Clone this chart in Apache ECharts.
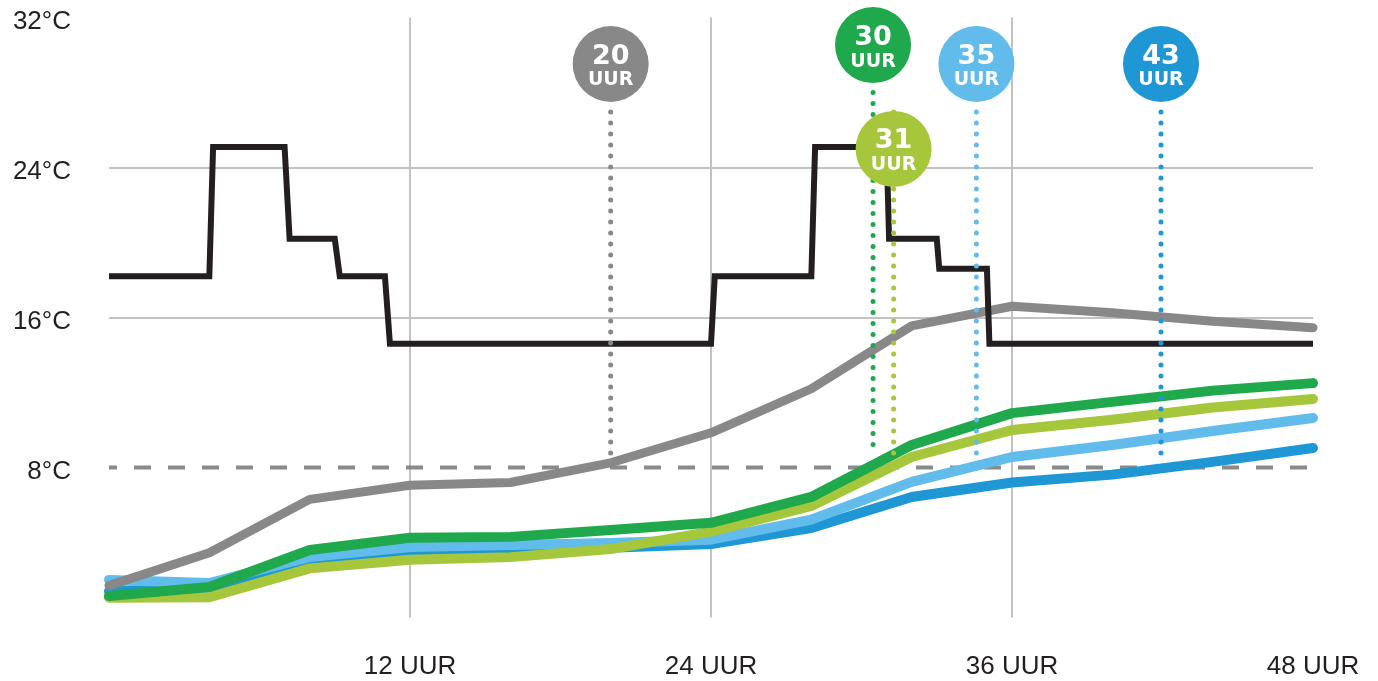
<!DOCTYPE html>
<html>
<head>
<meta charset="utf-8">
<script src="https://cdn.jsdelivr.net/npm/echarts@6/dist/echarts.min.js"></script>
<style>
  html, body { margin: 0; padding: 0; background: #fff; }
  #chart { width: 1378px; height: 681px; }
</style>
</head>
<body>
<div id="chart"></div>
<script>
// hours on the x axis where the measured curves have their points
const hours = [0, 4, 8, 12, 16, 20, 24, 28, 32, 36, 40, 44, 48];

// measured temperatures (°C)
const grayTemps      = [1.7, 3.45, 6.3, 7.05, 7.2, 8.25, 9.85, 12.2, 15.55, 16.6, 16.25, 15.8, 15.45];
const greenTemps     = [1.15, 1.63, 3.6, 4.25, 4.3, 4.67, 5.05, 6.43, 9.2, 10.9, 11.5, 12.1, 12.5];
const limeTemps      = [1.05, 1.08, 2.62, 3.08, 3.22, 3.65, 4.58, 5.95, 8.56, 10.0, 10.55, 11.2, 11.65];
const lightBlueTemps = [2.0, 1.84, 3.23, 3.76, 3.87, 3.97, 4.15, 5.22, 7.23, 8.56, 9.2, 9.95, 10.64];
const darkBlueTemps  = [1.4, 1.6, 2.96, 3.44, 3.6, 3.72, 3.92, 4.77, 6.43, 7.2, 7.62, 8.3, 9.04];

// thermostat setpoint (step line)
const setpointHours = [0, 4, 4.15, 7, 7.2, 9, 9.2, 11, 11.2, 24, 24.15, 28, 28.15, 31, 31.1, 33, 33.1, 35, 35.1, 48];
const setpointTemps = [18.2, 18.2, 25.1, 25.1, 20.2, 20.2, 18.2, 18.2, 14.6, 14.6, 18.2, 18.2, 25.1, 25.1, 20.2, 20.2, 18.6, 18.6, 14.6, 14.6];

// threshold line
const thresholdTemp = 8;

// markers: label, hour, colour
const markerLabels = ['20', '30', '31', '35', '43'];
const markerHours  = [20, 30.46, 31.28, 34.58, 41.94];
const markerTops   = [29.52, 30.53, 24.99, 29.52, 29.52];   // circle centre (°C scale)
const dotTop       = [26.96, 28.0, 26.96, 26.96, 26.96];
const dotBottom    = 8.67;

const xTicks = [12, 24, 36, 48];
const yTicks = [8, 16, 24, 32];

const colors = {
	gray: '#878887',
	green: '#1fa84c',
	lime: '#a6c63b',
	lightBlue: '#62bceb',
	darkBlue: '#1f97d4',
	black: '#231f20'
};
const markerColors = [colors.gray, colors.green, colors.lime, colors.lightBlue, colors.darkBlue];

const chart = echarts.init(document.getElementById('chart'));

function pairs(xs, ys) {
	return xs.map((x, i) => [x, ys[i]]);
}

function tempLine(name, temps, color, width) {
	return {
		name: name,
		type: 'line',
		data: pairs(hours, temps),
		symbol: 'none',
		lineStyle: { color: color, width: width, cap: 'round', join: 'round' },
		z: 3
	};
}

const dotSeries = markerHours.map((h, i) => ({
	type: 'line',
	data: [[h, dotTop[i]], [h, dotBottom]],
	symbol: 'none',
	lineStyle: { color: markerColors[i], width: 5, type: [0, 11], cap: 'round' },
	z: 6
}));

const labelFont = 'Liberation Sans, Arial, sans-serif';

chart.setOption({
	animation: false,
	grid: { left: 109, right: 65, top: 17.5, bottom: 63.5 },
	xAxis: {
		type: 'value',
		min: 0,
		max: 48,
		interval: 12,
		axisLine: { show: false },
		axisTick: { show: false },
		axisLabel: {
			margin: 36,
			fontSize: 26,
			fontFamily: labelFont,
			color: colors.black,
			formatter: v => xTicks.indexOf(v) >= 0 ? v + ' UUR' : ''
		},
		splitLine: {
			show: true,
			lineStyle: { color: ['rgba(0,0,0,0)', '#c2c2c2', '#c2c2c2', '#c2c2c2', 'rgba(0,0,0,0)'], width: 2 }
		}
	},
	yAxis: {
		type: 'value',
		min: 0,
		max: 32,
		interval: 8,
		axisLine: { show: false },
		axisTick: { show: false },
		axisLabel: {
			margin: 38,
			fontSize: 26,
			fontFamily: labelFont,
			color: colors.black,
			verticalAlign: 'top',
			lineHeight: 8,
			formatter: v => yTicks.indexOf(v) >= 0 ? v + '°C' : ''
		},
		splitLine: {
			show: true,
			lineStyle: { color: ['rgba(0,0,0,0)', 'rgba(0,0,0,0)', '#c2c2c2', '#c2c2c2', 'rgba(0,0,0,0)'], width: 2 }
		}
	},
	series: [
		{
			type: 'line',
			data: [[0, thresholdTemp], [48, thresholdTemp]],
			symbol: 'none',
			lineStyle: { color: '#8a8a8a', width: 4, type: [17, 17], dashOffset: 9 },
			z: 2
		},
		tempLine('43', darkBlueTemps, colors.darkBlue, 10),
		tempLine('35', lightBlueTemps, colors.lightBlue, 10),
		tempLine('31', limeTemps, colors.lime, 10),
		tempLine('30', greenTemps, colors.green, 10),
		tempLine('20', grayTemps, colors.gray, 9),
		{
			name: 'setpoint',
			type: 'line',
			data: pairs(setpointHours, setpointTemps),
			symbol: 'none',
			lineStyle: { color: colors.black, width: 6, cap: 'butt', join: 'miter' },
			z: 4
		},
		...dotSeries,
		{
			type: 'scatter',
			symbol: 'circle',
			symbolSize: 76,
			z: 8,
			data: markerHours.map((h, i) => ({
				value: [h, markerTops[i]],
				itemStyle: { color: markerColors[i], opacity: 1 },
				label: {
					show: true,
					position: 'inside',
					formatter: '{n|' + markerLabels[i] + '}\n{u|UUR}',
					rich: {
						n: { fontSize: 27, fontWeight: 'bold', fontFamily: 'DejaVu Sans', color: '#fff', lineHeight: 33, align: 'center' },
						u: { fontSize: 19, fontWeight: 'bold', fontFamily: 'DejaVu Sans', color: '#fff', lineHeight: 15, align: 'center' }
					}
				}
			}))
		}
	]
});
</script>
</body>
</html>
